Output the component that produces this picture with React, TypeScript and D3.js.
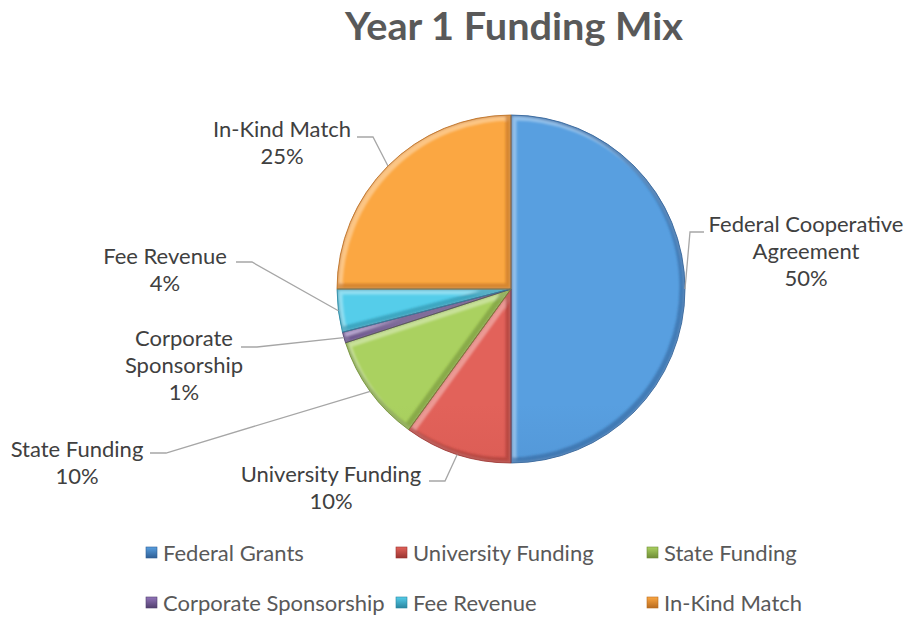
import React from "react";
import * as d3 from "d3";

const categories = ["Federal Grants", "University Funding", "State Funding", "Corporate Sponsorship", "Fee Revenue", "In-Kind Match"];
const values = [50, 10, 10, 1, 4, 25];
const labelTexts = [["Federal Cooperative", "Agreement"], ["University Funding"], ["State Funding"], ["Corporate", "Sponsorship"], ["Fee Revenue"], ["In-Kind Match"]];
const title = "Year 1 Funding Mix";

// colour stops: [top, bottom, edge]
const colors = [
  ["#589fe0", "#3e78b6", "#2f5f95"],
  ["#e2625a", "#c0463f", "#9a3431"],
  ["#aad160", "#8fb04a", "#6f8c36"],
  ["#9274ba", "#6e5490", "#52406e"],
  ["#55cdea", "#3aa7c4", "#2a86a0"],
  ["#fba742", "#e0872e", "#b86b20"],
];

// label layout (text centre x, first baseline y, leader start x, elbow x, leader y)
const labelLayout = [
  { cx: 806, y: 232, x1: 704, x2: 690, ly: 232 },
  { cx: 331, y: 482, x1: 429, x2: 445, ly: 481 },
  { cx: 77, y: 457, x1: 150, x2: 166, ly: 453 },
  { cx: 184, y: 346, x1: 241, x2: 257, ly: 347 },
  { cx: 165, y: 264, x1: 236, x2: 252, ly: 262 },
  { cx: 282, y: 137, x1: 357, x2: 373, ly: 137 },
];

const legendCols = [146, 396, 647];
const legendRows = [553, 603];

const W = 910, H = 618;
const CX = 511, CY = 289, R = 174;
const FONT = "Lato, 'Open Sans', sans-serif";

export default function App() {
  const total = d3.sum(values);
  const pie = d3.pie<number>().sort(null).value((d) => d)(values);
  const arc = d3.arc<d3.PieArcDatum<number>>().innerRadius(0).outerRadius(R);
  const pct = d3.format(".0%");

  return (
    <svg width={W} height={H} style={{ position: "absolute", left: 0, top: 0, background: "#fff" }} fontFamily={FONT}>
      <defs>
        {colors.map((c, i) => (
          <linearGradient key={i} id={`g${i}`} gradientUnits="userSpaceOnUse" x1={0} y1={CY - R} x2={0} y2={CY + R}>
            <stop offset="0%" stopColor={c[0]} />
            <stop offset="100%" stopColor={c[1]} />
          </linearGradient>
        ))}
        {colors.map((c, i) => (
          <linearGradient key={"l" + i} id={`lg${i}`} x1="0" y1="0" x2="0" y2="1">
            <stop offset="0%" stopColor={c[0]} />
            <stop offset="100%" stopColor={c[2]} />
          </linearGradient>
        ))}
        {pie.map((p, i) => (
          <clipPath key={i} id={`c${i}`}>
            <path d={arc(p) || ""} transform={`translate(${CX},${CY})`} />
          </clipPath>
        ))}
        <filter id="soft" x="-10%" y="-10%" width="120%" height="120%">
          <feGaussianBlur stdDeviation={1.2} />
        </filter>
      </defs>

      <text x={514} y={40} textAnchor="middle" fontSize={38} fontWeight="bold" fill="#595959" textLength={338} lengthAdjust="spacingAndGlyphs">{title}</text>

      <g transform={`translate(${CX},${CY})`}>
        {pie.map((p, i) => (
          <path key={i} d={arc(p) || ""} fill={`url(#g${i})`} />
        ))}
      </g>
      {pie.map((p, i) => (
        <g key={"b" + i} clipPath={`url(#c${i})`}>
          <g filter="url(#soft)">
            <path d={arc(p) || ""} transform={`translate(${CX + 2},${CY + 2})`} fill="none" stroke="#ffffff" strokeOpacity={0.35} strokeWidth={7} />
            <path d={arc(p) || ""} transform={`translate(${CX - 2},${CY - 2})`} fill="none" stroke={colors[i][2]} strokeOpacity={0.55} strokeWidth={7} />
          </g>
        </g>
      ))}
      <g transform={`translate(${CX},${CY})`}>
        {pie.map((p, i) => (
          <path key={i} d={arc(p) || ""} fill="none" stroke={colors[i][2]} strokeWidth={1} strokeOpacity={0.8} />
        ))}
      </g>

      {pie.map((p, i) => {
        const L = labelLayout[i];
        const mid = (p.startAngle + p.endAngle) / 2;
        const ax = CX + R * Math.sin(mid);
        const ay = CY - R * Math.cos(mid);
        const lines = [...labelTexts[i], pct(values[i] / total)];
        return (
          <g key={"lab" + i}>
            <polyline points={`${L.x1},${L.ly} ${L.x2},${L.ly} ${ax},${ay}`} fill="none" stroke="#a6a6a6" strokeWidth={1.3} />
            <text x={L.cx} y={L.y} textAnchor="middle" fontSize={22} fill="#404040">
              {lines.map((t, j) => (
                <tspan key={j} x={L.cx} dy={j === 0 ? 0 : 27}>{t}</tspan>
              ))}
            </text>
          </g>
        );
      })}

      {categories.map((c, i) => {
        const x = legendCols[i % 3];
        const y = legendRows[Math.floor(i / 3)];
        return (
          <g key={"lg" + i}>
            <rect x={x} y={y - 6} width={11} height={11} fill={`url(#lg${i})`} stroke={colors[i][2]} strokeWidth={0.6} />
            <text x={x + 17} y={y + 8} fontSize={22} fill="#595959">{c}</text>
          </g>
        );
      })}
    </svg>
  );
}
